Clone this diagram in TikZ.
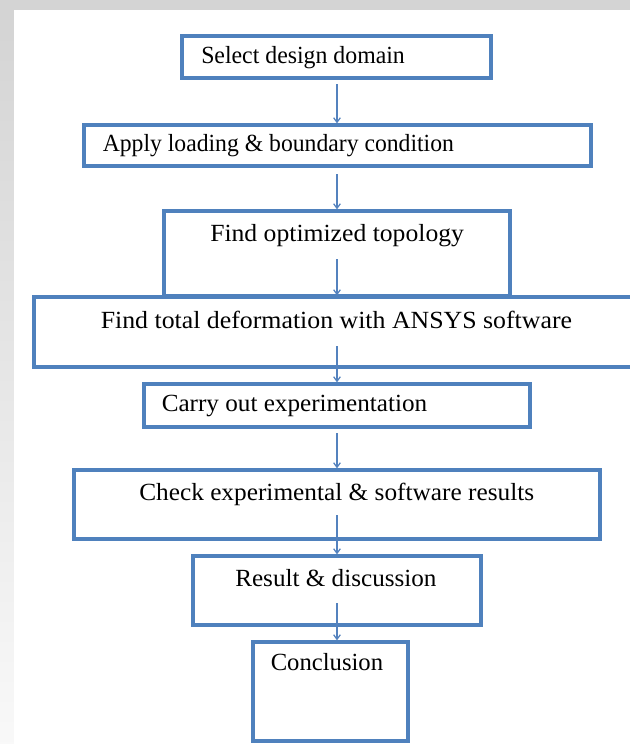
\documentclass[tikz,border=0pt]{standalone}
\usepackage{fontspec}
\setmainfont{Liberation Serif}
\usetikzlibrary{arrows.meta,fit}
\definecolor{boxblue}{RGB}{79,129,189}
\definecolor{arrblue}{RGB}{84,130,190}
\definecolor{bggray}{RGB}{212,212,212}
\tikzset{
  box/.style={draw=boxblue, line width=2.4pt, inner sep=0pt, fill=none},
  arr/.style={draw=arrblue, line width=0.9pt, -{Straight Barb[length=3.5pt,width=5pt]}},
  lbl/.style={anchor=base west, inner sep=0pt, transform shape, font=\fontsize{18.5}{22}\selectfont}
}
\begin{document}
\begin{tikzpicture}[x=0.75pt,y=-0.75pt]
\useasboundingbox (0,0) rectangle (630,744);
\clip (0,0) rectangle (630,744);
% background
\fill[bggray] (0,0) rectangle (630,744);
\shade[top color=bggray, bottom color=white!95!gray] (0,10) rectangle (14,744);
\fill[white] (14,10) rectangle (630,744);
% boxes
\node[box, fit={(182,36)(491,78)}] (b1) {};
\node[box, fit={(84,125)(591,166)}] (b2) {};
\node[box, fit={(164,211)(510,296)}] (b3) {};
\node[box, fit={(34,297)(645,367)}] (b4) {};
\node[box, fit={(144,384)(530,427)}] (b5) {};
\node[box, fit={(74,470)(600,539)}] (b6) {};
\node[box, fit={(193,556)(481,625)}] (b7) {};
\node[box, fit={(253,642)(408,741)}] (b8) {};
% labels
\node[lbl, xscale=0.965] (t1) at (201,63) {Select design domain};
\node[lbl, xscale=0.96] (t2) at (102.5,151.5) {Apply loading \& boundary condition};
\node[lbl, xscale=1.04] (t3) at (210,241.5) {Find optimized topology};
\node[lbl, xscale=1.047] (t4) at (100.5,328) {Find total deformation with ANSYS software};
\node[lbl, xscale=1.02] (t5) at (161.5,411.5) {Carry out experimentation};
\node[lbl, xscale=1.026] (t6) at (139,500) {Check experimental \& software results};
\node[lbl, xscale=1.02] (t7) at (235,586) {Result \& discussion};
\node[lbl] (t8) at (270.5,670) {Conclusion};
% arrow starts
\coordinate (s1) at (337,84);
\coordinate (s2) at (337,174);
\coordinate (s3) at (337,259);
\coordinate (s4) at (337,346);
\coordinate (s5) at (337,433);
\coordinate (s6) at (337,515);
\coordinate (s7) at (337,603);
% arrows
\draw[arr] (s1) -- (s1 |- b2.north);
\draw[arr] (s2) -- (s2 |- b3.north);
\draw[arr] (s3) -- (s3 |- b4.north);
\draw[arr] (s4) -- (s4 |- b5.north);
\draw[arr] (s5) -- (s5 |- b6.north);
\draw[arr] (s6) -- (s6 |- b7.north);
\draw[arr] (s7) -- (s7 |- b8.north);
\end{tikzpicture}
\end{document}
